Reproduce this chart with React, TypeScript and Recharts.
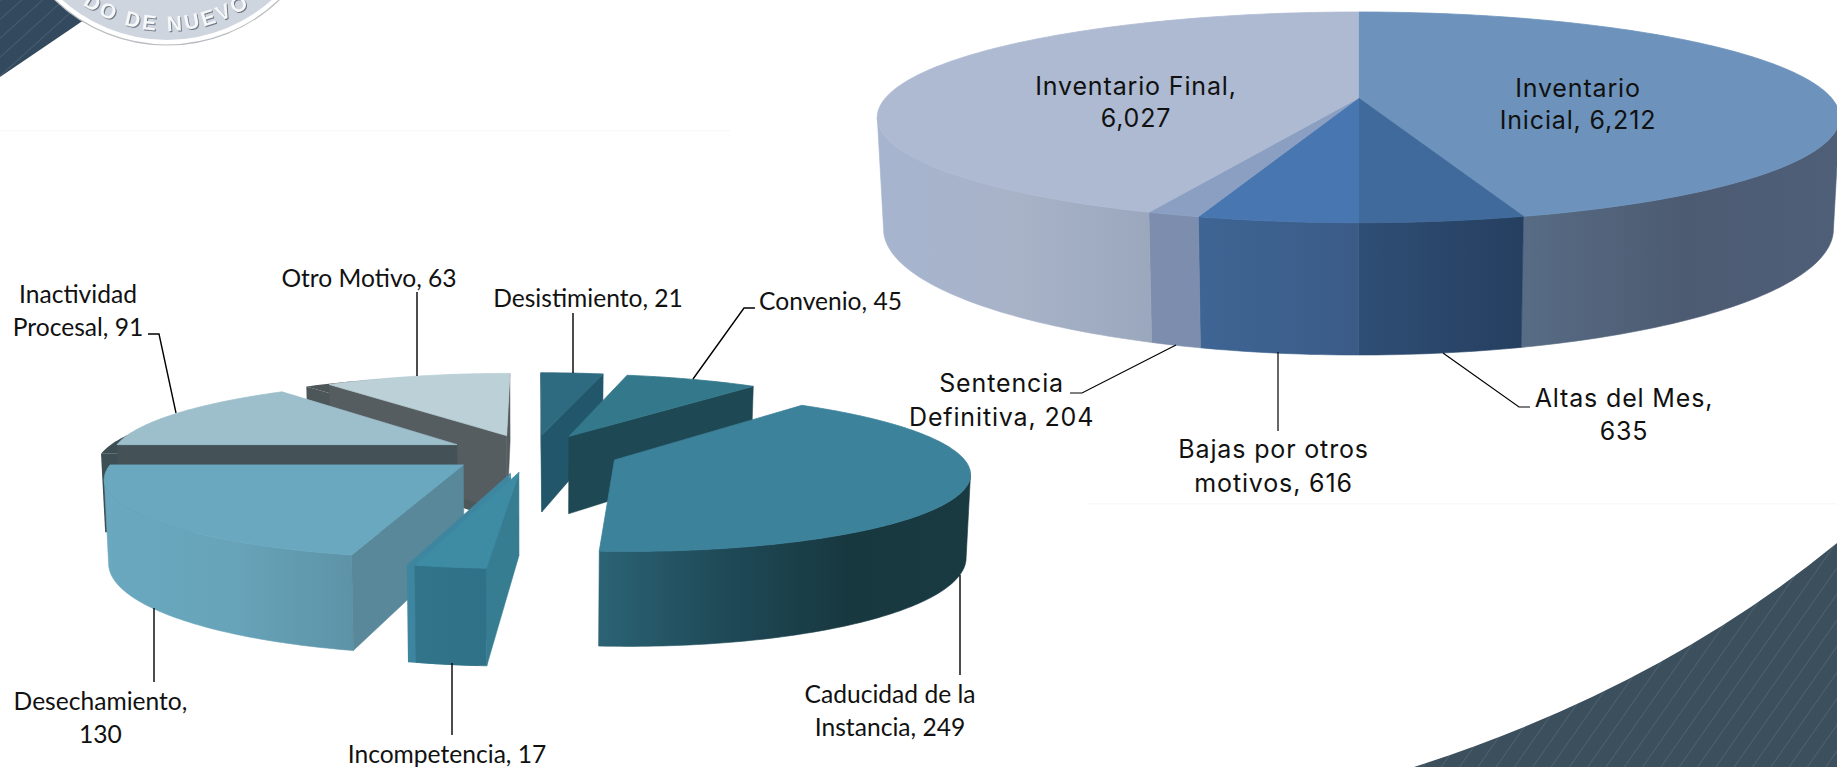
import React from "react";
import { PieChart, Pie } from "recharts";

// ---------- data ----------
const caseNames = ["Desistimiento", "Convenio", "Caducidad de la Instancia", "Incompetencia", "Desechamiento", "Inactividad Procesal", "Otro Motivo"];
const caseValues = [21, 45, 249, 17, 130, 91, 63];
const inventoryNames = ["Inventario Inicial", "Altas del Mes", "Bajas por otros motivos", "Sentencia Definitiva", "Inventario Final"];
const inventoryValues = [6212, 635, 616, 204, 6027];

const caseData = caseNames.map((name, i) => ({ name, value: caseValues[i] }));
const inventoryData = inventoryNames.map((name, i) => ({ name, value: inventoryValues[i] }));

// ---------- style tables ----------
type Cam = { A: number; B: number; p: number; D: number; bs: number; e: number };
const leftCam: Cam = { A: 345.5, B: 75.9, p: 0.145, D: 80, bs: 0.99, e: 0.25 };
const rightCam: Cam = { A: 473, B: 101.8, p: 0.1837, D: 108, bs: 0.987, e: 0 };

type Look = { top: string; face: string; wall: string[]; ghost?: [number, number, string] };
const looks: Record<string, Look> = {
  "Desistimiento": { top: "#2e6b80", face: "#22566a", wall: ["#22566a", "#22566a"] },
  "Convenio": { top: "#34788b", face: "#1e4954", wall: ["#1e4954", "#1e4954"] },
  "Caducidad de la Instancia": { top: "#3c829b", face: "#2b6375", wall: ["#2b6375", "#1f4a58", "#183840", "#1a3a42"] },
  "Incompetencia": { top: "#3e8ba4", face: "#377d92", wall: ["#32748a", "#2f7186"], ghost: [-8, 0, "#3e86a0"] },
  "Desechamiento": { top: "#6aa8bf", face: "#588899", wall: ["#69a8bf", "#67a4ba", "#5d93a7"] },
  "Inactividad Procesal": { top: "#9dbfcc", face: "#445258", wall: ["#3d4e55", "#3d4e55"], ghost: [-16, 9, "#3d4e55"] },
  "Otro Motivo": { top: "#bcd0d8", face: "#555d60", wall: ["#555d60", "#555d60"], ghost: [-23, 2, "#4d5659"] },
  "Inventario Inicial": { top: "#6d93bc", face: "#566a84", wall: ["#586c85", "#4c5b72", "#4f5f78"] },
  "Altas del Mes": { top: "#3f6a9b", face: "#2f4e75", wall: ["#2f4e75", "#253f60"] },
  "Bajas por otros motivos": { top: "#4876b0", face: "#3e6594", wall: ["#3e6594", "#3b5b87"] },
  "Sentencia Definitiva": { top: "#8a9fc2", face: "#7c8dad", wall: ["#7c8dad", "#7c8dad"] },
  "Inventario Final": { top: "#adbad2", face: "#a6b4cf", wall: ["#a6b4cf", "#a8b3c8", "#9aa7bc"] },
};

// painter's order, back to front
const caseDrawOrder = ["Desistimiento", "Otro Motivo", "Convenio", "Inactividad Procesal", "Caducidad de la Instancia", "Desechamiento", "Incompetencia"];

type Lab = { x: number; ys: number[]; lines: (v: string) => string[]; leader: number[][] };
const caseFont = "Lato, 'Open Sans', sans-serif";
const invFont = "Inter, 'DejaVu Sans', sans-serif";
const caseLabels: Record<string, Lab> = {
  "Desistimiento": { x: 588, ys: [297], lines: (v) => [`Desistimiento, ${v}`], leader: [[573, 313], [573, 373]] },
  "Convenio": { x: 830.5, ys: [300], lines: (v) => [`Convenio, ${v}`], leader: [[755, 308], [744, 308], [693, 379]] },
  "Caducidad de la Instancia": { x: 890, ys: [693, 726], lines: (v) => ["Caducidad de la", `Instancia, ${v}`], leader: [[960, 575], [960, 675]] },
  "Incompetencia": { x: 447, ys: [753], lines: (v) => [`Incompetencia, ${v}`], leader: [[452, 663], [452, 735]] },
  "Desechamiento": { x: 100.5, ys: [700, 733], lines: (v) => ["Desechamiento,", v], leader: [[154, 608], [154, 682]] },
  "Inactividad Procesal": { x: 78, ys: [293, 326], lines: (v) => ["Inactividad", `Procesal, ${v}`], leader: [[148, 334], [159, 334], [176, 413]] },
  "Otro Motivo": { x: 369, ys: [277], lines: (v) => [`Otro Motivo, ${v}`], leader: [[417, 292], [417, 376]] },
};
const invLabels: Record<string, Lab> = {
  "Inventario Inicial": { x: 1578, ys: [88, 120], lines: (v) => ["Inventario", `Inicial, ${v}`], leader: [] },
  "Altas del Mes": { x: 1624, ys: [398, 431], lines: (v) => ["Altas del Mes,", v], leader: [[1443, 353], [1519, 407], [1530, 407]] },
  "Bajas por otros motivos": { x: 1273.6, ys: [449, 483], lines: (v) => ["Bajas por otros", `motivos, ${v}`], leader: [[1278, 352], [1278, 431]] },
  "Sentencia Definitiva": { x: 1001.6, ys: [383, 417], lines: (v) => ["Sentencia", `Definitiva, ${v}`], leader: [[1070, 393], [1082, 393], [1176, 345]] },
  "Inventario Final": { x: 1136, ys: [86, 118], lines: (v) => ["Inventario Final,", v], leader: [] },
};

// ---------- projection helpers ----------
const rad = (d: number) => (d * Math.PI) / 180;
type Pt = [number, number];
const pathOf = (pts: Pt[]) => "M" + pts.map((q) => `${q[0].toFixed(2)},${q[1].toFixed(2)}`).join("L") + "Z";
const area = (pts: Pt[]) => {
  let s = 0;
  for (let i = 0; i < pts.length; i++) {
    const a = pts[i];
    const b = pts[(i + 1) % pts.length];
    s += a[0] * b[1] - b[0] * a[1];
  }
  return s / 2;
};
let gradSeq = 0;

function renderSolid(props: any, cam: Cam) {
  const { cx, cy, startAngle, endAngle, name } = props;
  const look = looks[name];
  const t0 = 90 - startAngle;
  const t1 = 90 - endAngle;
  const mid = rad((t0 + t1) / 2);
  const eu = cam.e * Math.sin(mid);
  const ev = cam.e * Math.cos(mid);
  const project = (u: number, v: number, bottom: boolean): Pt => {
    const w = 1 + cam.p * (v + ev);
    const X = (cam.A * (u + eu)) / w;
    const Y = (cam.B * (v + ev) - (bottom ? cam.D : 0)) / w;
    return [cx + X * (bottom ? cam.bs : 1), cy - Y];
  };
  const steps = Math.max(4, Math.ceil((t1 - t0) / 1));
  const ths = Array.from({ length: steps + 1 }, (_, i) => rad(t0 + ((t1 - t0) * i) / steps));
  const topArc = ths.map((t) => project(Math.sin(t), Math.cos(t), false));
  const botArc = ths.map((t) => project(Math.sin(t), Math.cos(t), true));
  const apexTop = project(0, 0, false);
  const apexBot = project(0, 0, true);
  const topFace = [apexTop, ...topArc];

  // radial faces exist only on exploded slices; culled by orientation
  const faces: Pt[][] = [];
  if (cam.e > 0) {
    const startFace: Pt[] = [apexTop, topArc[0], botArc[0], apexBot];
    const endFace: Pt[] = [apexTop, topArc[steps], botArc[steps], apexBot];
    if (area(startFace) < 0) faces.push(startFace);
    if (area(endFace) > 0) faces.push(endFace);
  }

  // visible outer wall: runs where the arc goes leftwards on screen
  const runs: Pt[][] = [];
  let run: number[] = [];
  for (let i = 0; i < steps; i++) {
    if (topArc[i + 1][0] < topArc[i][0]) {
      if (!run.length) run.push(i);
      run.push(i + 1);
    } else if (run.length) {
      runs.push(run.map((k) => topArc[k]).concat(run.slice().reverse().map((k) => botArc[k])));
      run = [];
    }
  }
  if (run.length) runs.push(run.map((k) => topArc[k]).concat(run.slice().reverse().map((k) => botArc[k])));

  const id = `wall${gradSeq++}`;
  const allX = runs.flat().map((q) => q[0]);
  const minX = allX.length ? Math.min(...allX) : cx;
  const maxX = allX.length ? Math.max(...allX) : cx + 1;
  const ghostShapes = [...runs, ...faces, topFace];
  return (
    <g>
      <defs>
        <linearGradient id={id} gradientUnits="userSpaceOnUse" x1={minX} x2={maxX} y1={0} y2={0}>
          {look.wall.map((c, i) => (
            <stop key={i} offset={i / (look.wall.length - 1)} stopColor={c} />
          ))}
        </linearGradient>
      </defs>
      {look.ghost &&
        ghostShapes.map((f, i) => (
          <path key={i} transform={`translate(${look.ghost![0]},${look.ghost![1]})`} d={pathOf(f)} fill={look.ghost![2]} />
        ))}
      {runs.map((r, i) => (
        <path key={i} d={pathOf(r)} fill={`url(#${id})`} stroke={`url(#${id})`} strokeWidth={0.6} />
      ))}
      {faces.map((f, i) => (
        <path key={i} d={pathOf(f)} fill={look.face} stroke={look.face} strokeWidth={0.5} />
      ))}
      <path d={pathOf(topFace)} fill={look.top} stroke={look.top} strokeWidth={0.8} />
    </g>
  );
}

const makeLabel = (table: Record<string, Lab>, font: string, size: number, sw: number, spacing: number) => (props: any) => {
  const lab = table[props.name];
  const lines = lab.lines(Number(props.value).toLocaleString("en-US"));
  return (
    <g>
      {lab.leader.length > 0 && (
        <polyline points={lab.leader.map((q) => q.join(",")).join(" ")} fill="none" stroke="#000" strokeWidth={sw} />
      )}
      {lines.map((t, i) => (
        <text key={i} x={lab.x} y={lab.ys[i]} textAnchor="middle" dominantBaseline="central" fontFamily={font} fontSize={size} letterSpacing={spacing} fill="#111">
          {t}
        </text>
      ))}
    </g>
  );
};

function Backdrop() {
  return (
    <svg width={1837} height={767} style={{ position: "absolute", left: 0, top: 0 }}>
      <defs>
        <pattern id="stripeA" width="14" height="14" patternUnits="userSpaceOnUse" patternTransform="rotate(-42)">
          <rect width="14" height="14" fill="#33495d" />
          <rect width="14" height="1" fill="#485d70" />
        </pattern>
        <pattern id="stripeB" width="15" height="15" patternUnits="userSpaceOnUse" patternTransform="rotate(-55)">
          <rect width="15" height="15" fill="#3c4f5d" />
          <rect width="15" height="1" fill="#4f606d" />
        </pattern>
        <path id="sealArc" d="M 53.6,-21.9 A 148,148 0 0 0 280.4,-21.9" fill="none" />
      </defs>
      <rect width={1837} height={767} fill="#fff" />
      <rect x={0} y={130} width={730} height={1.5} fill="#f9f9f9" />
      <rect x={1088} y={503} width={749} height={1.5} fill="#f9f9f9" />
      <path d="M0,0 L110,0 L84,20 L0,77 Z" fill="url(#stripeA)" />
      <circle cx={167} cy={-117} r={162} fill="#fff" stroke="#b9bcc0" strokeWidth={1.2} />
      <circle cx={167} cy={-117} r={157} fill="#ced5de" />
      <text
        fontFamily="'Liberation Sans', sans-serif"
        fontWeight={700}
        fontSize={21}
        fill="#f6f7f9"
        letterSpacing={3}
        style={{ filter: "drop-shadow(1px 1px 0 #6f7783)" }}
      >
        <textPath href="#sealArc" startOffset="50%" textAnchor="middle">DO DE NUEVO</textPath>
      </text>
      <path d="M1414,767 Q1660,688 1837,543 L1837,767 Z" fill="url(#stripeB)" />
    </svg>
  );
}

export default function App() {
  return (
    <div style={{ position: "absolute", left: 0, top: 0, width: 1837, height: 767, overflow: "hidden" }}>
      <Backdrop />
      <div style={{ position: "absolute", left: 0, top: 0 }}>
        <PieChart width={1837} height={767} margin={{ top: 0, right: 0, bottom: 0, left: 0 }}>
          <Pie
            data={inventoryData}
            dataKey="value"
            nameKey="name"
            cx={1358.5}
            cy={98}
            outerRadius={100}
            startAngle={90}
            endAngle={-270}
            stroke="none"
            isAnimationActive={false}
            labelLine={false}
            label={makeLabel(invLabels, invFont, 25, 1.2, 0.85)}
            shape={(p: any) => renderSolid(p, rightCam)}
          />
          {caseDrawOrder.map((nm, k) => (
            <Pie
              key={nm}
              data={caseData}
              dataKey="value"
              nameKey="name"
              cx={533}
              cy={453}
              outerRadius={100}
              startAngle={90}
              endAngle={-270}
              stroke="none"
              isAnimationActive={false}
              labelLine={false}
              label={k === caseDrawOrder.length - 1 ? makeLabel(caseLabels, caseFont, 24.6, 1.4, 0) : false}
              shape={(p: any) => (p.name === nm ? renderSolid(p, leftCam) : <g />)}
            />
          ))}
        </PieChart>
      </div>
    </div>
  );
}
